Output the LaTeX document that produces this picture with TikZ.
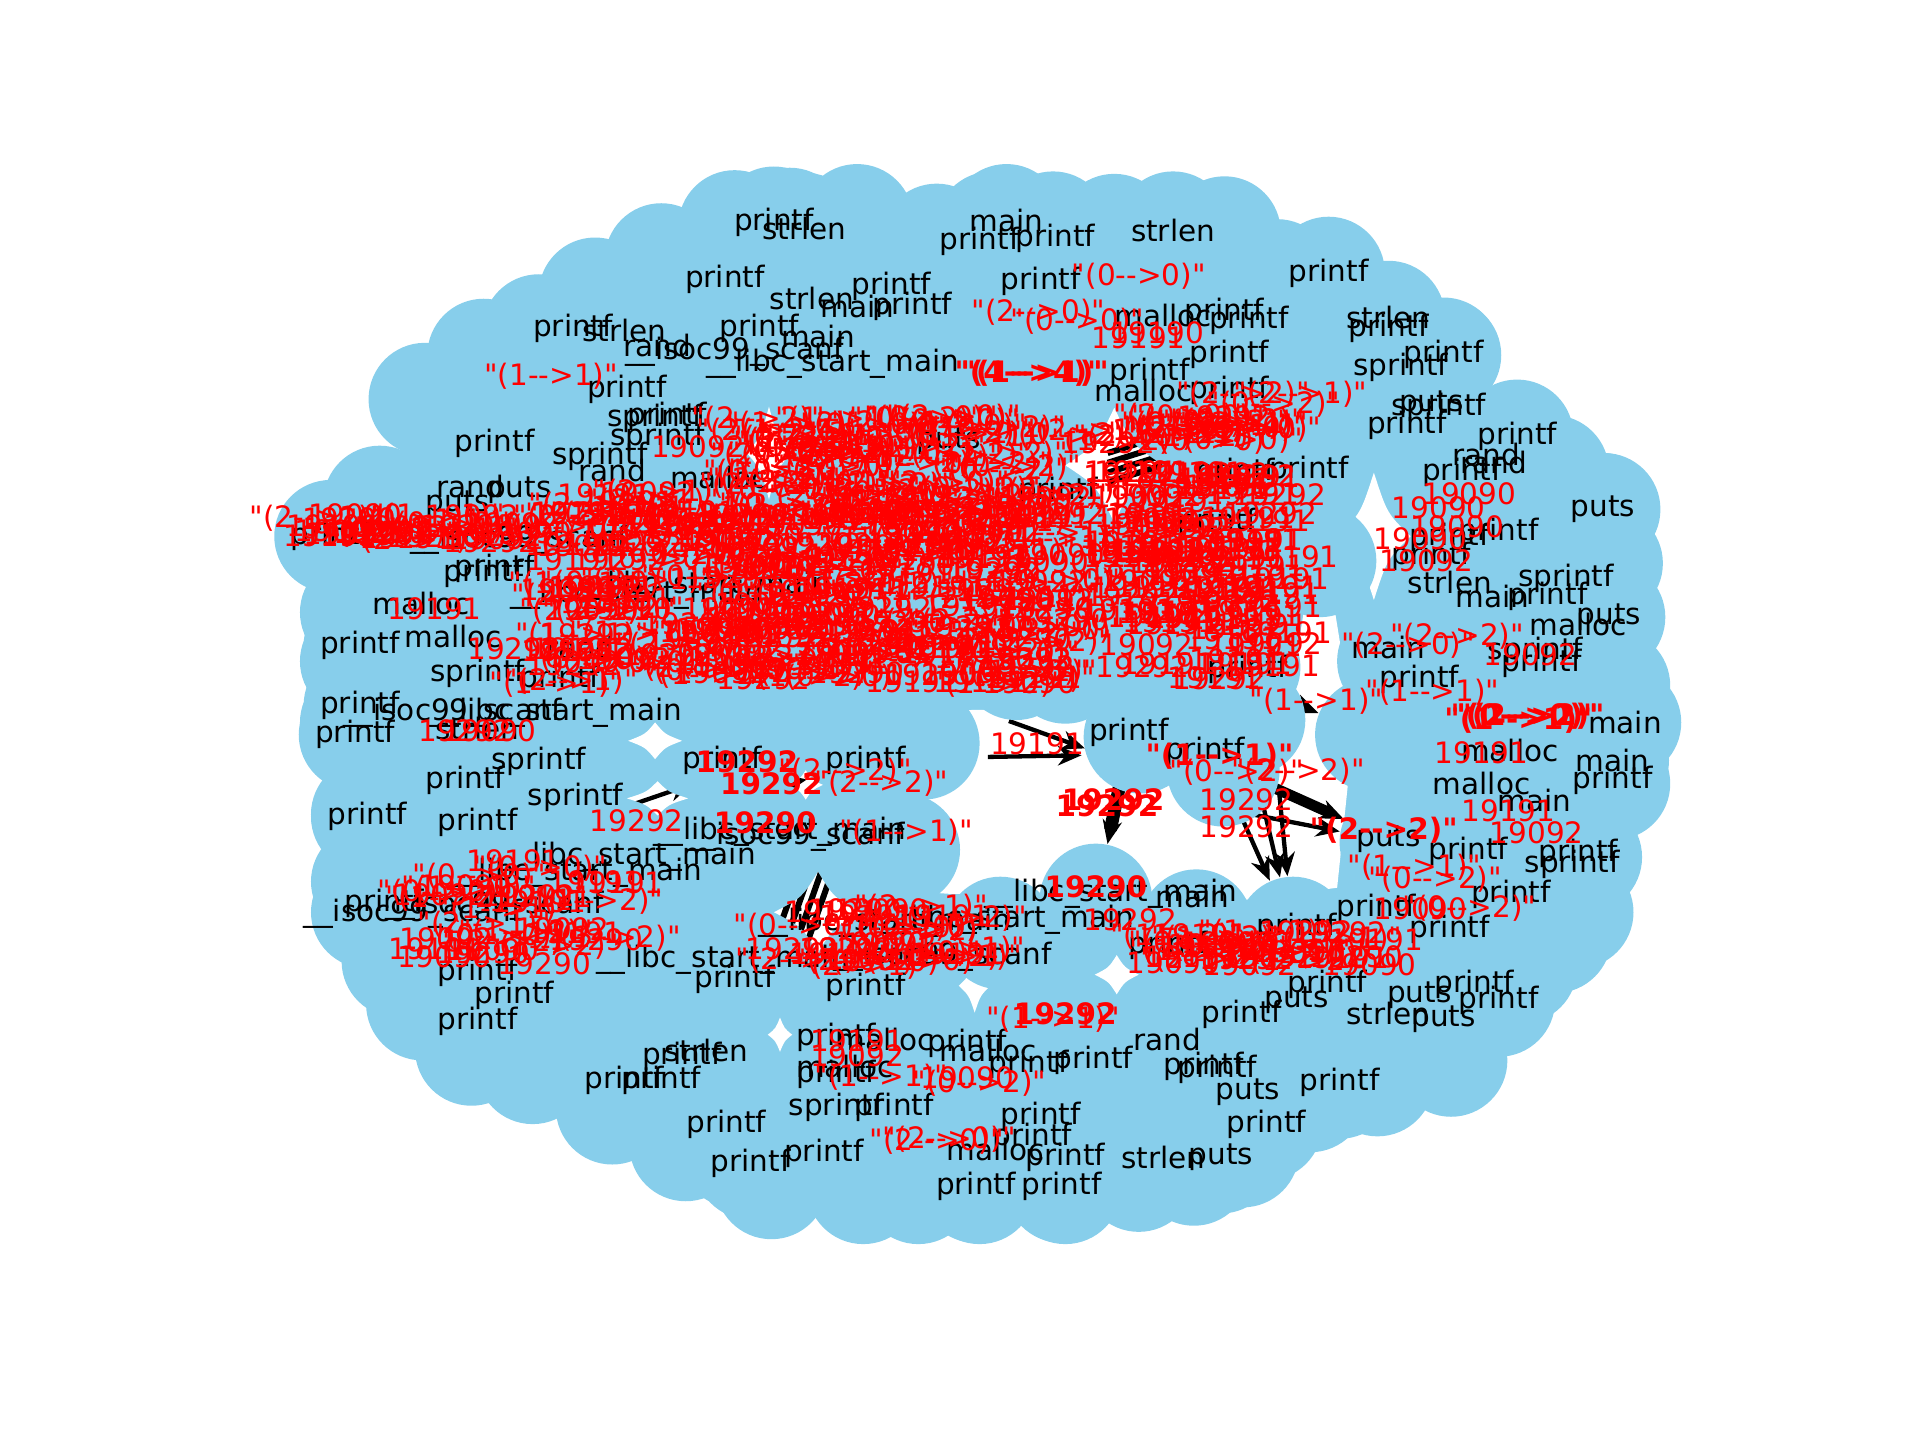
\documentclass[tikz,border=0pt]{standalone}
\usepackage{fontspec}
\setmainfont{DejaVu Sans}[Ligatures=TeXOff]
\usetikzlibrary{arrows.meta}
\definecolor{sky}{HTML}{87CEEB}
\newcommand\arw{-{}->}
\newcommand\gapd[4]{({#1-#3},{#2}) .. controls ({#1-0.36*#3},{#2-0.36*#4}) .. ({#1},{#2-#4}) .. controls ({#1+0.36*#3},{#2-0.36*#4}) .. ({#1+#3},{#2}) .. controls ({#1+0.36*#3},{#2+0.36*#4}) .. ({#1},{#2+#4}) .. controls ({#1-0.36*#3},{#2+0.36*#4}) .. cycle }
\newcommand\biggap{(745,645) -- (785,580) -- (885,578) -- (960,640) -- (1050,585) -- (1055,560) -- (1065,498) -- (1090,498) -- (1100,560) -- (1105,600) -- (1092,725) -- (1016,735) -- (936,730) -- (856,730) -- (776,730) -- (745,728) -- cycle}
\newcommand\allgaps{\gapd{628}{370}{18}{38} \gapd{910}{380}{40}{47} \gapd{1122}{438}{30}{52} \gapd{535}{605}{22}{15} \gapd{537}{652}{25}{14} \gapd{658}{641}{14}{12} \gapd{912}{796}{18}{16} \gapd{796}{805}{13}{22} \gapd{637}{845}{10}{14} \gapd{668}{745}{36}{33} \biggap}
\def\outl{600/185,645/183,700/180,765/196,810/186,860/186,910/188,958/186,1000/190,1043/225,1085/226,1135/262,1180/290,1238/358,1268/385,1310/416,1312/460,1313/505,1318/560,1315/590,1318/640,1295/700,1288/745,1270/765,1242/790,1185/866,1125/882,1070/895,1015/940,975/955,930/960,870/970,800/970,750/970,705/970,630/966,600/940,560/935,500/905,435/872,385/857,345/820,325/785,300/745,300/720,300/665,291/590,291/540,291/500,294/440,310/410,347/326,395/290,440/270,486/240,540/212}
\def\labs{632/182/printf,657/187/strlen,822/180/main,800/197/printf,862/195/printf,958/188/strlen,592/228/printf,728/234/printf,663/244/strlen,700/250/main,745/250/printf,850/230/printf,1085/223/printf,468/268/printf,510/270/strlen,537/282/rand,620/268/printf,668/275/main,600/287/\_\_isoc99\_scanf,680/297/\_\_libc\_start\_main,934/319/malloc,1004/319/printf,939/304/printf,1004/289/printf,950/258/malloc,1000/255/printf,1020/262/printf,1134/259/strlen,1134/268/printf,1144/300/sprintf,1179/289/printf,1169/330/puts,1175/333/sprintf,1149/347/printf,1239/356/printf,1214/371/rand,1220/378/rand,1194/386/printf,1309/416/puts,1224/435/printf,1184/439/printf,1169/454/printf,1184/476/strlen,1279/472/sprintf,1219/487/main,1264/487/printf,1314/504/puts,1289/510/malloc,1134/529/main,1254/532/sprintf,1259/542/printf,1159/555/printf,1019/547/printf,864/401/printf,1009/386/printf,1069/384/printf,994/427/printf,512/318/printf,535/342/sprintf,545/340/printf,537/357/sprintf,404/362/printf,490/373/sprintf,500/384/rand,587/390/malloc,384/397/rand,424/400/puts,374/412/puts,775/360/puts,270/438/printf,424/441/\_\_isoc99\_scanf,404/464/printf,395/468/printf,520/486/\_\_libc\_start\_main,575/478/\_\_libc\_start\_main,344/493/malloc,294/527/printf,370/520/malloc,474/529/rand,390/550/sprintf,457/555/printf,294/576/printf,370/582/\_\_isoc99\_scanf,454/582/\_\_libc\_start\_main,290/600/printf,390/595/strlen,440/622/sprintf,380/637/printf,470/651/sprintf,300/667/printf,390/672/printf,590/621/printf,707/621/printf,637/679/\_\_libc\_start\_main,650/683/\_\_isoc99\_scanf,514/700/\_\_libc\_start\_main,470/713/\_\_libc\_start\_main,314/738/printf,337/746/\_\_isoc99\_scanf,404/740/\_\_isoc99\_scanf,907/730/\_\_libc\_start\_main,823/751/\_\_libc\_start\_main,770/781/\_\_isoc99\_scanf,590/784/\_\_libc\_start\_main,600/800/printf,707/806/printf,723/754/\_\_libc\_start\_main,577/858/strlen,557/863/printf,540/882/printf,510/882/printf,593/918/printf,613/950/printf,673/942/printf,683/847/printf,723/849/malloc,790/852/printf,807/858/malloc,690/871/malloc,683/877/printf,840/869/printf,893/866/printf,953/849/rand,983/871/printf,683/904/sprintf,730/904/printf,850/912/printf,843/929/printf,813/939/malloc,870/945/printf,950/945/strlen,997/945/puts,797/969/printf,867/969/printf,922/598/printf,984/614/printf,1233/613/malloc,1327/590/main,1317/621/main,1317/637/printf,1210/640/malloc,1253/654/main,1134/685/puts,1199/695/printf,1289/697/printf,1284/706/sprintf,1234/730/printf,1124/742/printf,1059/757/printf,1184/759/printf,974/732/main,954/772/printf,1084/804/printf,1159/813/puts,1204/804/printf,1224/817/printf,1059/817/puts,1014/828/printf,1134/828/strlen,1179/832/puts,994/873/printf,1019/892/puts,1094/884/printf,1034/918/printf,390/794/printf,420/813/printf,390/834/printf}
\def\redA{450/307/"(1\arw1)",570/365/19092,930/226/"(0\arw0)",848/255/"(2\arw0)",880/262/"(0\arw0)",945/272/19190,930/276/19191,1015/322/"(2\arw2)",1040/330/"(0\arw2)",1062/322/"(2\arw1)",1000/340/19292,890/352/"(2\arw1)",960/355/"(2\arw2)",905/362/19292,1200/403/19090,1175/415/19090,1190/430/19090,1160/440/19090,1165/458/19092,1055/455/19191,1040/485/19191,1030/510/19191,847/607/19191,1170/565/"(1\arw1)",1075/573/"(1\arw1)",1210/615/19191,1232/662/19191,1255/680/19092,1155/708/"(1\arw1)",1172/718/"(0\arw2)",1160/742/19090,1200/742/"(0\arw2)",1018/653/19292,1018/675/19292,1060/630/"(2\arw2)",520/670/19292,740/680/"(1\arw1)",690/630/"(2\arw2)",720/640/"(2\arw2)",923/751/19292,860/832/"(1\arw1)",700/850/19191,700/862/19092,720/880/"(1\arw1)",800/885/"(0\arw2)",790/880/19090,775/930/"(2\arw0)",765/932/"(2\arw0)",290/420/19090,355/497/19191,420/530/19292,400/597/19090,380/597/19292,1250/535/19092,1190/520/"(2\arw2)",1150/527/"(2\arw0)",1010/631/"(0\arw2)"}
\def\redB{840/305/"(4\arw4)",845/305/"(1\arw1)",610/622/19292,630/640/19292,625/672/19290,909/653/19292,904/658/19292,996/618/"(1\arw1)",895/724/19290,870/828/19292,1130/678/"(2\arw2)",1245/585/"(0\arw0)",1250/585/"(2\arw2)",1240/588/"(1\arw1)"}
\begin{document}
\begin{tikzpicture}[x=0.01cm,y=-0.01cm,
  nd/.style={circle,fill=sky,inner sep=0pt,minimum size=0.92cm},
  bl/.style={inner sep=0pt,font=\fontsize{6.85}{8}\selectfont,text=black},
  rl/.style={inner sep=0pt,font=\fontsize{6.85}{8}\selectfont,text=red},
  rb/.style={inner sep=0pt,font=\fontsize{6.85}{8}\selectfont\bfseries,text=red},
  ed/.style={line width=1pt,draw=black,-{Stealth[length=5.5pt,width=4.5pt]}},
  stripe/.style={line width=1.4pt,draw=black}]
\useasboundingbox (0,0) rectangle (1568,1176);
\pgfmathdeclarerandomlist{quo}{{"(0\arw0)"}{"(1\arw1)"}{"(2\arw2)"}{"(1\arw2)"}{"(2\arw1)"}{"(0\arw2)"}{"(2\arw0)"}}
\pgfmathdeclarerandomlist{mix}{{"(0\arw0)"}{"(1\arw1)"}{"(2\arw2)"}{"(1\arw2)"}{"(2\arw1)"}{19191}{19292}{19090}{19092}{19290}{19191}}
\pgfmathdeclarerandomlist{nine}{{19191}{19191}{19191}{19292}{19092}{19191}}
% cloud interior
\fill[sky] (600,185) -- (645,183) -- (700,180) -- (765,196) -- (810,186) -- (860,186) -- (910,188) -- (958,186) -- (1000,190) -- (1043,225) -- (1085,226) -- (1135,262) -- (1180,290) -- (1238,358) -- (1268,385) -- (1310,416) -- (1312,460) -- (1313,505) -- (1318,560) -- (1315,590) -- (1318,640) -- (1295,700) -- (1288,745) -- (1270,765) -- (1242,790) -- (1185,866) -- (1125,882) -- (1070,895) -- (1015,940) -- (975,955) -- (930,960) -- (870,970) -- (800,970) -- (750,970) -- (705,970) -- (630,966) -- (600,940) -- (560,935) -- (500,905) -- (435,872) -- (385,857) -- (345,820) -- (325,785) -- (300,745) -- (300,720) -- (300,665) -- (291,590) -- (291,540) -- (291,500) -- (294,440) -- (310,410) -- (347,326) -- (395,290) -- (440,270) -- (486,240) -- (540,212) -- cycle;
% nodes
\foreach \x/\y [count=\i] in \outl {\node[nd] (o\i) at (\x,\y) {};}
\foreach \x/\y/\t [count=\i] in \labs {\node[nd] (n\i) at (\x,\y) {};}
% nodes that border the large empty area
\foreach \x/\y [count=\i] in {754/607,830/542,931/602,999/629,1016/545,1138/540,1140/688,895/735,977/756,1056/762,738/694,817/762,1020/588,1120/600,870/545,1078/458} {\node[nd] (w\i) at (\x,\y) {};}
% edge end nodes
\node[nd] (a1) at (1000,340) {}; \node[nd] (a2) at (1000,348) {}; \node[nd] (a3) at (1000,356) {}; \node[nd] (a4) at (1000,364) {};
\node[nd] (b1) at (860,384) {}; \node[nd] (b2) at (860,392) {}; \node[nd] (b3) at (860,400) {}; \node[nd] (b4) at (860,408) {};
\node[nd] (c1) at (925,590) {};
\node[nd] (d1) at (984,600) {}; \node[nd] (d2) at (1018,600) {}; \node[nd] (d3) at (1040,600) {};
\node[nd] (f1) at (986,619) {}; \node[nd] (f2) at (976,656) {};
\node[nd] (h1) at (760,619) {}; \node[nd] (h2) at (930,616) {}; \node[nd] (h3) at (780,573) {}; \node[nd] (h4) at (930,627) {};
\node[nd] (k1) at (733,800) {};
\node[nd] (m1) at (944,528) {};
\node[nd] (p1) at (470,673) {}; \node[nd] (p2) at (610,625) {}; \node[nd] (p3) at (560,655) {}; \node[nd] (p4) at (705,628) {};
\node[nd] (q1) at (685,620) {}; \node[nd] (q2) at (694,620) {}; \node[nd] (q3) at (703,620) {}; \node[nd] (q4) at (712,620) {};
\node[nd] (r1) at (597,870) {}; \node[nd] (r2) at (606,870) {}; \node[nd] (r3) at (615,870) {}; \node[nd] (r4) at (624,870) {};
% empty areas between nodes
\fill[white] \allgaps;
% edges, visible only where no node covers them
\begin{scope}
\clip \allgaps;
\foreach \i in {1,...,4} {\draw[stripe] (a\i) -- (b\i);}
\draw[ed,line width=3pt] (c1) -- (w8);
\draw[ed] (d1) -- (w10); \draw[ed] (d2) -- (w10); \draw[ed] (d3) -- (w10);
\draw[ed,line width=2.5pt] (f1) -- (w7); \draw[ed] (f2) -- (w7);
\draw[ed] (h1) -- (h2); \draw[ed] (h3) -- (h4);
\draw[ed] (k1) -- (w1);
\draw[ed] (m1) -- (w14);
\draw[ed] (p1) -- (p2); \draw[ed] (p3) -- (p4);
\foreach \i in {1,...,4} {\draw[stripe] (q\i) -- (r\i);}
\end{scope}
% bordering nodes lie above the edges
\foreach \i in {1,...,16} {\fill[sky] (w\i) circle[radius=0.46cm];}
% node labels
\foreach \x/\y/\t [count=\i] in \labs {\node[bl] (l\i) at (n\i) {\t};}
% edge labels
\pgfmathsetseed{12345}
\foreach \cx/\cy/\w/\h/\n/\lst [count=\c] in {660/480/420/160/260/mix,720/380/220/80/70/quo,985/470/130/170/90/nine,960/350/170/25/18/quo,340/432/180/22/25/mix,1040/775/170/28/28/mix,430/745/150/90/30/mix,715/765/140/50/28/mix}{
  \foreach \k in {1,...,\n}{
    \pgfmathsetmacro\rx{\cx+\w*(rnd-0.5)}
    \pgfmathsetmacro\ry{\cy+\h*(rnd-0.5)}
    \pgfmathrandomitem{\lbl}{\lst}
    \node[rl] (z\c x\k) at (\rx,\ry) {\lbl};
  }
}
\foreach \x/\y/\t [count=\i] in \redA {\node[rl] (ra\i) at (\x,\y) {\t};}
\foreach \x/\y/\t [count=\i] in \redB {\node[rb] (rb\i) at (\x,\y) {\t};}
\end{tikzpicture}
\end{document}
